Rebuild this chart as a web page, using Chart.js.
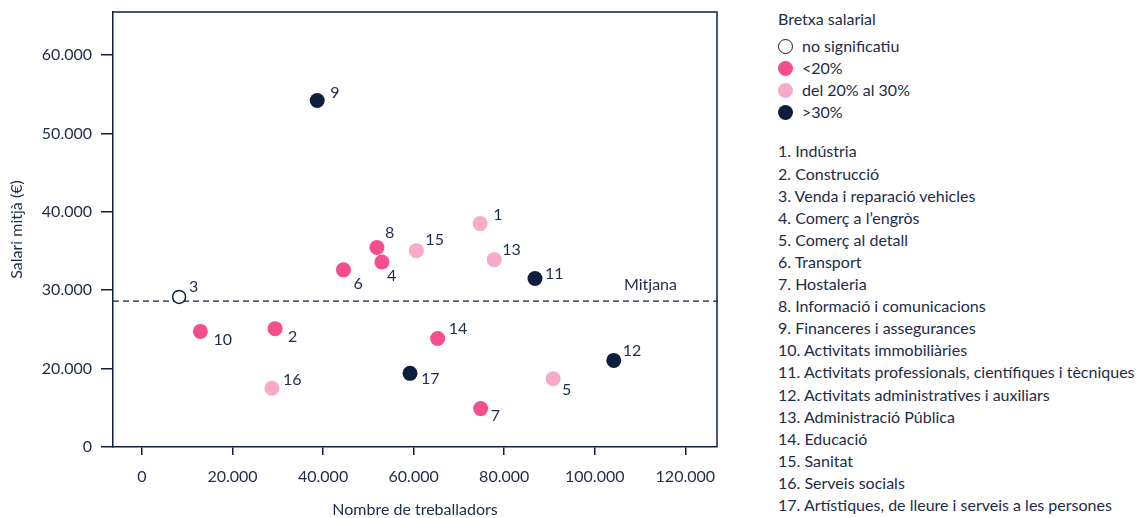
<!DOCTYPE html>
<html>
<head>
<meta charset="utf-8">
<script src="https://cdn.jsdelivr.net/npm/chart.js@4.4.1/dist/chart.umd.min.js"></script>
<style>
  html, body { margin: 0; padding: 0; background: #fff; }
  body { width: 1137px; height: 518px; position: relative; overflow: hidden;
         font-family: Lato, sans-serif; color: #1d2c48; }
  #wrap { position: absolute; left: 0; top: 0; width: 740px; height: 518px; }
  #side { position: absolute; left: 778px; top: 8px; font-size: 16px; line-height: 22.1px; white-space: nowrap; }
  #side .ttl { margin-bottom: 5px; }
  #side .row { position: relative; padding-left: 24px; }
  #side .dot { position: absolute; left: 0; top: 4px; width: 15px; height: 15px; border-radius: 50%; box-sizing: border-box; }
  #side ol { list-style: none; margin: 17px 0 0 0; padding: 0; }
</style>
</head>
<body>
<div id="wrap"><canvas id="chart" width="740" height="518"></canvas></div>
<div id="side">
  <div class="ttl">Bretxa salarial</div>
  <div id="legend"></div>
  <ol id="sectorList"></ol>
</div>
<script>
// --- data ---
const sectors = [
  'Indústria', 'Construcció', 'Venda i reparació vehicles', 'Comerç a l\u2019engròs',
  'Comerç al detall', 'Transport', 'Hostaleria', 'Informació i comunicacions',
  'Financeres i assegurances', 'Activitats immobiliàries',
  'Activitats professionals, científiques i tècniques',
  'Activitats administratives i auxiliars', 'Administració Pública', 'Educació',
  'Sanitat', 'Serveis socials', 'Artístiques, de lleure i serveis a les persones'
];
const workers = [74700, 29400, 8200, 53000, 90800, 44500, 74800, 51900, 38700,
  12900, 86800, 104200, 77800, 65300, 60600, 28700, 59200];
const salaries = [38500, 25100, 29150, 33600, 18700, 32600, 14900, 35450, 54200,
  24750, 31500, 21050, 33900, 23850, 35050, 17500, 19400];
// 0 = no significatiu, 1 = <20%, 2 = del 20% al 30%, 3 = >30%
const gapGroup = [2, 1, 0, 1, 2, 1, 1, 1, 3, 1, 3, 3, 2, 1, 2, 2, 3];
const groupNames = ['no significatiu', '<20%', 'del 20% al 30%', '>30%'];
const meanSalary = 28600;
const xTicks = [0, 20000, 40000, 60000, 80000, 100000, 120000];
// the axis is broken: its bottom tick (10.000) is labelled 0
const yTicks = [10000, 20000, 30000, 40000, 50000, 60000];
const yTickLabels = ['0', '20.000', '30.000', '40.000', '50.000', '60.000'];

// --- styling ---
const navy = '#0e1f3d';
const textColor = '#1d2c48';
const groupFill = ['#ffffff', '#f54d8e', '#f9a9ca', navy];
const groupBorder = [navy, '#f54d8e', '#f9a9ca', navy];
// label offsets (px) from each point's centre
const labelOffsets = [
  [13, -9], [13, 8], [10, -10], [5, 14], [9, 11], [10, 14], [10, 7], [8, -15], [13, -8],
  [13, 8], [10, -5], [9, -10], [8, -10], [11, -10], [9, -11], [11, -8], [11, 6]
];
const font = { family: 'Lato, sans-serif', size: 16 };

// html legend + sector list
const legend = document.getElementById('legend');
groupNames.forEach((name, g) => {
  const row = document.createElement('div');
  row.className = 'row';
  const border = g === 0 ? `1.5px solid ${navy}` : 'none';
  row.innerHTML = `<span class="dot" style="background:${groupFill[g]};border:${border}"></span>${name}`;
  legend.appendChild(row);
});
const list = document.getElementById('sectorList');
sectors.forEach((s, i) => {
  const li = document.createElement('li');
  li.textContent = `${i + 1}. ${s}`;
  list.appendChild(li);
});

const fmt = (v) => String(Math.round(v)).replace(/\B(?=(\d{3})+(?!\d))/g, '.');

const datasets = groupNames.map((name, g) => {
  const idx = sectors.map((_, i) => i).filter((i) => gapGroup[i] === g);
  return {
    label: name,
    data: idx.map((i) => ({ x: workers[i], y: salaries[i], n: i + 1 })),
    backgroundColor: groupFill[g],
    borderColor: groupBorder[g],
    borderWidth: g === 0 ? 1.5 : 0,
    pointRadius: g === 0 ? 6.5 : 7.5,
    pointHoverRadius: 7.5
  };
});

// frame, mean line and point numbers
const extras = {
  id: 'extras',
  beforeDatasetsDraw(chart) {
    const { ctx, chartArea: a, scales } = chart;
    const y = scales.y.getPixelForValue(meanSalary);
    ctx.save();
    ctx.strokeStyle = navy;
    ctx.lineWidth = 1.3;
    ctx.setLineDash([6, 4]);
    ctx.beginPath();
    ctx.moveTo(a.left, y);
    ctx.lineTo(a.right, y);
    ctx.stroke();
    ctx.setLineDash([]);
    ctx.fillStyle = textColor;
    ctx.font = '16px Lato, sans-serif';
    ctx.textAlign = 'right';
    ctx.textBaseline = 'middle';
    ctx.fillText('Mitjana', a.right - 40, y - 16);
    ctx.restore();
  },
  afterDatasetsDraw(chart) {
    const { ctx, chartArea: a } = chart;
    ctx.save();
    ctx.strokeStyle = navy;
    ctx.lineWidth = 1.5;
    ctx.beginPath();
    ctx.moveTo(a.left, a.top);
    ctx.lineTo(a.right, a.top);
    ctx.lineTo(a.right, a.bottom);
    ctx.stroke();
    ctx.fillStyle = textColor;
    ctx.font = '16px Lato, sans-serif';
    ctx.textAlign = 'left';
    ctx.textBaseline = 'middle';
    chart.data.datasets.forEach((ds, d) => {
      chart.getDatasetMeta(d).data.forEach((pt, j) => {
        const n = ds.data[j].n;
        const [dx, dy] = labelOffsets[n - 1];
        ctx.fillText(String(n), pt.x + dx, pt.y + dy);
      });
    });
    ctx.restore();
  }
};

new Chart(document.getElementById('chart'), {
  type: 'scatter',
  data: { datasets },
  plugins: [extras],
  options: {
    responsive: false,
    animation: false,
    devicePixelRatio: 1,
    layout: { padding: { top: 12, right: 23, left: 0, bottom: 0 } },
    plugins: { legend: { display: false }, tooltip: { enabled: false } },
    scales: {
      x: {
        type: 'linear',
        min: -6400,
        max: 127000,
        afterBuildTicks: (s) => { s.ticks = xTicks.map((v) => ({ value: v })); },
        ticks: { color: textColor, font, padding: 12, maxRotation: 0, autoSkip: false,
          callback: (v) => fmt(v) },
        grid: { drawOnChartArea: false, tickLength: 8, color: navy, lineWidth: 1.5 },
        border: { color: navy, width: 1.5 },
        title: { display: true, text: 'Nombre de treballadors', color: textColor,
          font: { family: 'Lato, sans-serif', size: 16, lineHeight: 1 }, padding: { top: 0, bottom: 0 } },
        afterFit: (s) => { s.height = 71; s.paddingLeft = 0; s.paddingRight = 0; }
      },
      y: {
        min: 10000,
        max: 65500,
        afterBuildTicks: (s) => { s.ticks = yTicks.map((v) => ({ value: v })); },
        ticks: { color: textColor, font, padding: 9, autoSkip: false,
          callback: (v) => yTickLabels[yTicks.indexOf(v)] },
        grid: { drawOnChartArea: false, tickLength: 12, color: navy, lineWidth: 1.5 },
        border: { color: navy, width: 1.5 },
        title: { display: true, text: 'Salari mitjà (€)', color: textColor,
          font: { family: 'Lato, sans-serif', size: 16, lineHeight: 1.2 }, padding: { top: 7, bottom: 0 } },
        afterFit: (s) => { s.width = 113; s.paddingTop = 0; s.paddingBottom = 0; }
      }
    }
  }
});
</script>
</body>
</html>
